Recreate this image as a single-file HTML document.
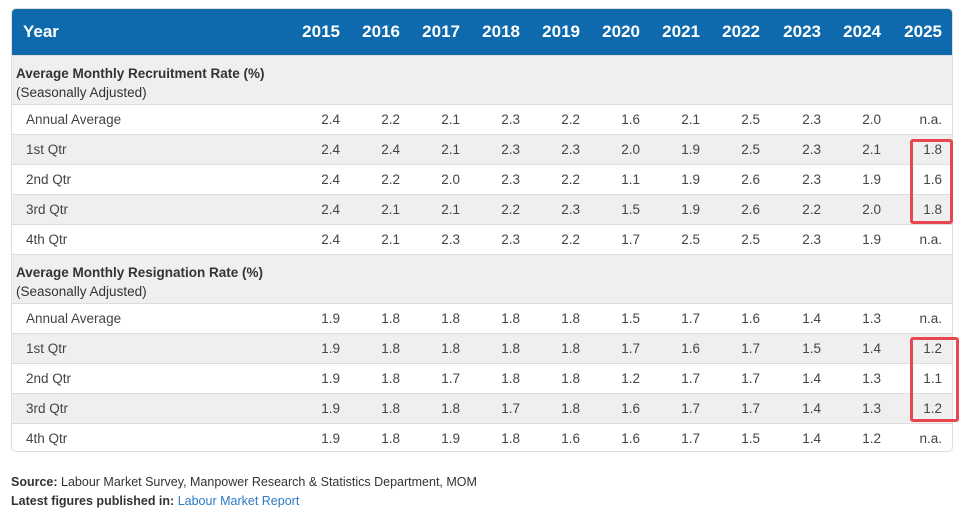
<!DOCTYPE html>
<html><head><style>
body{margin:0;width:966px;height:513px;background:#fff;font-family:"Liberation Sans",sans-serif;position:relative;overflow:hidden}
.t{position:absolute;left:11px;top:8px;width:942px;height:444px;border:1px solid #ddd;border-radius:5px;overflow:hidden;box-sizing:border-box}
.hd{position:absolute;left:0;top:0;width:100%;height:46px;background:#0f6aad;color:#fff;font-weight:bold;font-size:17px}
.r{position:absolute;left:0;width:100%;height:30px;border-top:1px solid #ddd;box-sizing:border-box;font-size:13.5px;color:#444}
.g{background:#efefef}
.c{position:absolute;text-align:right;width:50px}
.sec{position:absolute;left:0;width:100%;height:49px;background:#efefef;border-top:1px solid #ddd;box-sizing:border-box;font-size:13.5px;color:#333}
.box{position:absolute;border:3px solid #e8474f;border-radius:3px;box-sizing:border-box}
.f{position:absolute;left:11px;font-size:12.5px;color:#333}
</style></head><body>
<div class="t">
<div class="hd"><span style="position:absolute;left:11px;top:13px">Year</span>
<span class="c" style="left:278px;top:13px">2015</span><span class="c" style="left:338px;top:13px">2016</span><span class="c" style="left:398px;top:13px">2017</span><span class="c" style="left:458px;top:13px">2018</span><span class="c" style="left:518px;top:13px">2019</span><span class="c" style="left:578px;top:13px">2020</span><span class="c" style="left:638px;top:13px">2021</span><span class="c" style="left:698px;top:13px">2022</span><span class="c" style="left:759px;top:13px">2023</span><span class="c" style="left:819px;top:13px">2024</span><span class="c" style="left:880px;top:13px">2025</span></div>
<div class="sec" style="top:46px"><div style="position:absolute;left:4px;top:8px;line-height:19px"><b>Average Monthly Recruitment Rate (%)</b><br>(Seasonally Adjusted)</div></div>
<div class="sec" style="top:245px"><div style="position:absolute;left:4px;top:8px;line-height:19px"><b>Average Monthly Resignation Rate (%)</b><br>(Seasonally Adjusted)</div></div>
<div id="rows"></div>
</div>
<div class="box" style="left:910px;top:139px;width:43px;height:85px"></div>
<div class="box" style="left:910px;top:337px;width:49px;height:85px"></div>
<div class="f" style="top:475px"><b>Source:</b> Labour Market Survey, Manpower Research &amp; Statistics Department, MOM</div>
<div class="f" style="top:494px"><b>Latest figures published in:</b> <span style="color:#2a7ac7">Labour Market Report</span></div>
<script>
var d=[[95,"Annual Average","2.4 2.2 2.1 2.3 2.2 1.6 2.1 2.5 2.3 2.0 n.a."],
[125,"1st Qtr","2.4 2.4 2.1 2.3 2.3 2.0 1.9 2.5 2.3 2.1 1.8"],
[155,"2nd Qtr","2.4 2.2 2.0 2.3 2.2 1.1 1.9 2.6 2.3 1.9 1.6"],
[185,"3rd Qtr","2.4 2.1 2.1 2.2 2.3 1.5 1.9 2.6 2.2 2.0 1.8"],
[215,"4th Qtr","2.4 2.1 2.3 2.3 2.2 1.7 2.5 2.5 2.3 1.9 n.a."],
[294,"Annual Average","1.9 1.8 1.8 1.8 1.8 1.5 1.7 1.6 1.4 1.3 n.a."],
[324,"1st Qtr","1.9 1.8 1.8 1.8 1.8 1.7 1.6 1.7 1.5 1.4 1.2"],
[354,"2nd Qtr","1.9 1.8 1.7 1.8 1.8 1.2 1.7 1.7 1.4 1.3 1.1"],
[384,"3rd Qtr","1.9 1.8 1.8 1.7 1.8 1.6 1.7 1.7 1.4 1.3 1.2"],
[414,"4th Qtr","1.9 1.8 1.9 1.8 1.6 1.6 1.7 1.5 1.4 1.2 n.a."]];
var L=[278,338,398,458,518,578,638,698,759,819,880],h="";
d.forEach(function(r,i){var g=(r[1]=="1st Qtr"||r[1]=="3rd Qtr")?" g":"";
h+='<div class="r'+g+'" style="top:'+r[0]+'px"><span style="position:absolute;left:14px;top:7px">'+r[1]+'</span>';
r[2].split(" ").forEach(function(v,j){h+='<span class="c" style="left:'+L[j]+'px;top:7px">'+v+'</span>'});h+='</div>'});
document.getElementById("rows").innerHTML=h;
</script>
</body></html>
